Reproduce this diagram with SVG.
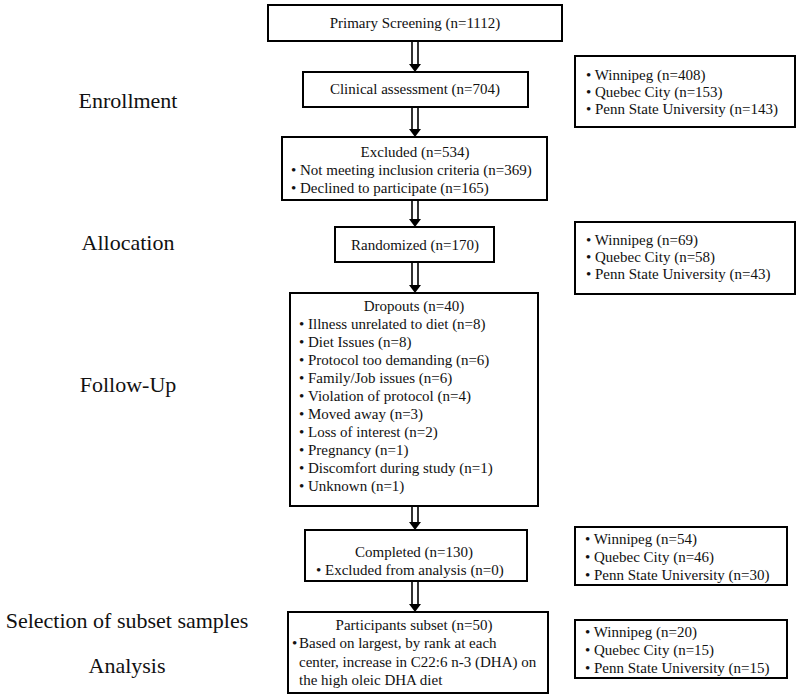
<svg xmlns="http://www.w3.org/2000/svg" width="800" height="696" viewBox="0 0 800 696">
<style>
.box{fill:#fff;stroke:#000;stroke-width:2}
.t{font-family:"Liberation Serif","Times New Roman",serif;font-size:15px;fill:#111}
.c{text-anchor:middle}
.lab{font-family:"Liberation Serif","Times New Roman",serif;font-size:22px;fill:#111;text-anchor:middle}
.sh{stroke:#000;stroke-width:1.6;fill:none}
.hd{fill:#000}
</style>
<rect width="800" height="696" fill="#fff"/>
<g id="labels">
<text class="lab" x="128" y="108">Enrollment</text>
<text class="lab" x="128" y="250">Allocation</text>
<text class="lab" x="128" y="392">Follow-Up</text>
<text class="lab" x="127" y="628">Selection of subset samples</text>
<text class="lab" x="127" y="673">Analysis</text>
</g>
<g id="connectors">
<path class="sh" d="M412,41V64M418,41V64"/><path class="hd" d="M409,64H421L415,72Z"/>
<path class="sh" d="M412,107V129M418,107V129"/><path class="hd" d="M409,129H421L415,137Z"/>
<path class="sh" d="M412,200V219M418,200V219"/><path class="hd" d="M409,219H421L415,227Z"/>
<path class="sh" d="M412,262V285M418,262V285"/><path class="hd" d="M409,285H421L415,293Z"/>
<path class="sh" d="M412,506V522M418,506V522"/><path class="hd" d="M409,522H421L415,530Z"/>
<path class="sh" d="M412,581V604M418,581V604"/><path class="hd" d="M409,604H421L415,612Z"/>
</g>
<g id="primary">
<rect class="box" x="268" y="5" width="294" height="36"/>
<text class="t c" x="415" y="28">Primary Screening (n=1112)</text>
</g>
<g id="clinical">
<rect class="box" x="303" y="72" width="225" height="35"/>
<text class="t c" x="415" y="94">Clinical assessment (n=704)</text>
</g>
<g id="sites-enrolled">
<rect class="box" x="575" y="56" width="220" height="71"/>
<text class="t" x="586" y="80">• Winnipeg (n=408)</text>
<text class="t" x="586" y="97">• Quebec City (n=153)</text>
<text class="t" x="586" y="114">• Penn State University (n=143)</text>
</g>
<g id="excluded">
<rect class="box" x="282" y="137" width="265" height="63"/>
<text class="t c" x="415" y="157">Excluded (n=534)</text>
<text class="t" y="175"><tspan x="291">•</tspan><tspan x="300">Not meeting inclusion criteria (n=369)</tspan></text>
<text class="t" y="193"><tspan x="291">•</tspan><tspan x="300">Declined to participate (n=165)</tspan></text>
</g>
<g id="randomized">
<rect class="box" x="335" y="227" width="159" height="35"/>
<text class="t c" x="415" y="250">Randomized (n=170)</text>
</g>
<g id="sites-randomized">
<rect class="box" x="575" y="222" width="220" height="72"/>
<text class="t" x="586" y="245">• Winnipeg (n=69)</text>
<text class="t" x="586" y="262">• Quebec City (n=58)</text>
<text class="t" x="586" y="279">• Penn State University (n=43)</text>
</g>
<g id="dropouts">
<rect class="box" x="290" y="293" width="248" height="213"/>
<text class="t c" x="414" y="311">Dropouts (n=40)</text>
<text class="t" y="329"><tspan x="299">•</tspan><tspan x="308">Illness unrelated to diet (n=8)</tspan></text>
<text class="t" y="347"><tspan x="299">•</tspan><tspan x="308">Diet Issues (n=8)</tspan></text>
<text class="t" y="365"><tspan x="299">•</tspan><tspan x="308">Protocol too demanding (n=6)</tspan></text>
<text class="t" y="383"><tspan x="299">•</tspan><tspan x="308">Family/Job issues (n=6)</tspan></text>
<text class="t" y="401"><tspan x="299">•</tspan><tspan x="308">Violation of protocol (n=4)</tspan></text>
<text class="t" y="419"><tspan x="299">•</tspan><tspan x="308">Moved away (n=3)</tspan></text>
<text class="t" y="437"><tspan x="299">•</tspan><tspan x="308">Loss of interest (n=2)</tspan></text>
<text class="t" y="455"><tspan x="299">•</tspan><tspan x="308">Pregnancy (n=1)</tspan></text>
<text class="t" y="473"><tspan x="299">•</tspan><tspan x="308">Discomfort during study (n=1)</tspan></text>
<text class="t" y="491"><tspan x="299">•</tspan><tspan x="308">Unknown (n=1)</tspan></text>
</g>
<g id="completed">
<rect class="box" x="305" y="530" width="222" height="51"/>
<text class="t c" x="414" y="557">Completed (n=130)</text>
<text class="t" y="575"><tspan x="316">•</tspan><tspan x="325">Excluded from analysis (n=0)</tspan></text>
</g>
<g id="sites-completed">
<rect class="box" x="575" y="527" width="212" height="58"/>
<text class="t" x="585" y="544">• Winnipeg (n=54)</text>
<text class="t" x="585" y="562">• Quebec City (n=46)</text>
<text class="t" x="585" y="580">• Penn State University (n=30)</text>
</g>
<g id="subset">
<rect class="box" x="288" y="612" width="260" height="81"/>
<text class="t c" x="414" y="630">Participants subset (n=50)</text>
<text class="t" y="648"><tspan x="292">•</tspan><tspan x="299">Based on largest, by rank at each</tspan></text>
<text class="t" x="299" y="667">center, increase in C22:6 n-3 (DHA) on</text>
<text class="t" x="299" y="685">the high oleic DHA diet</text>
</g>
<g id="sites-subset">
<rect class="box" x="575" y="620" width="212" height="58"/>
<text class="t" x="585" y="637">• Winnipeg (n=20)</text>
<text class="t" x="585" y="655">• Quebec City (n=15)</text>
<text class="t" x="585" y="673">• Penn State University (n=15)</text>
</g>
</svg>
